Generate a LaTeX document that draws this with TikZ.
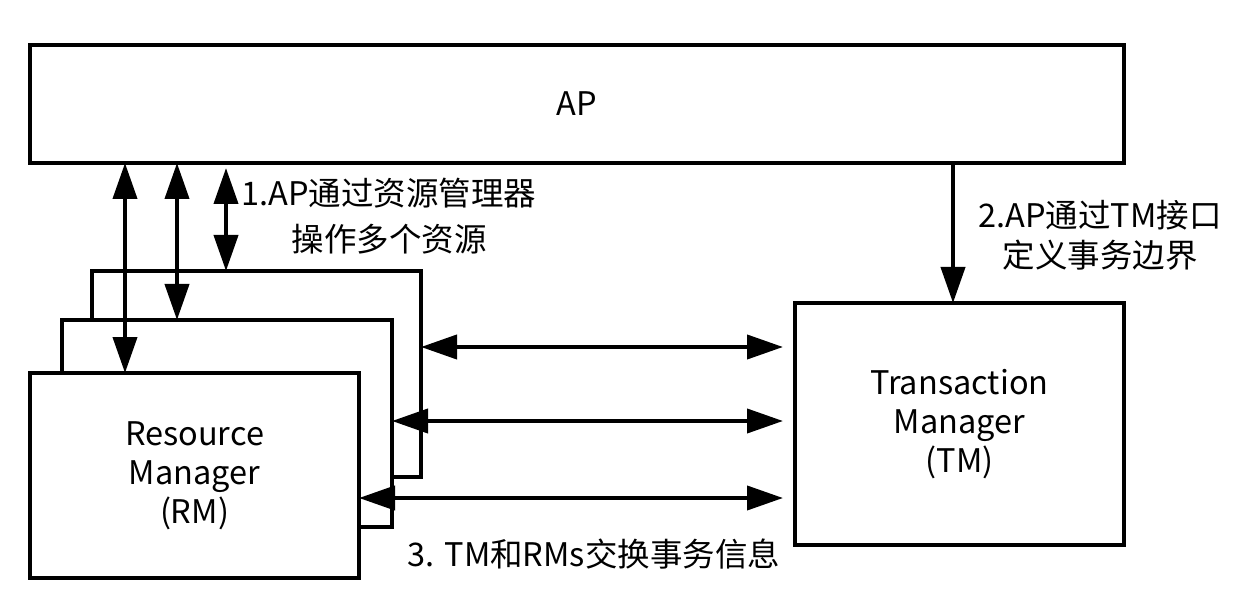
\documentclass[tikz,border=0pt]{standalone}
\usepackage{fontspec}
\setmainfont{Noto Sans CJK SC}
\usetikzlibrary{arrows.meta}
\begin{document}
\begin{tikzpicture}[x=1pt,y=-1pt,
  box/.style={draw,line width=4.5pt,fill=white,rectangle,inner sep=0pt,outer sep=0pt,align=center,
    font=\fontsize{32.5}{39}\selectfont},
  conn/.style={line width=4pt,-{Triangle[length=36pt,width=24pt]}},
  bconn/.style={line width=4pt,{Triangle[length=36pt,width=24pt]}-{Triangle[length=36pt,width=24pt]}},
  lbl/.style={align=center,inner sep=0pt,font=\fontsize{32.5}{40}\selectfont}]
\useasboundingbox (0,0) rectangle (1241,593);
\fill[white] (0,0) rectangle (1241,593);
\node[box,minimum width=1094pt,minimum height=118pt] (AP) at (577,104) {AP};
\node[box,minimum width=329pt,minimum height=206pt] (rmA) at (256.5,374) {};
\node[box,minimum width=330pt,minimum height=207pt] (rmB) at (227,423.5) {};
\node[box,minimum width=329pt,minimum height=205pt] (rmC) at (194.5,475.5) {Resource\\Manager\\(RM)};
\node[box,minimum width=329pt,minimum height=242pt] (TM) at (959.5,424) {Transaction\\Manager\\(TM)};
\coordinate (xa) at (125,0);
\coordinate (xb) at (177,0);
\coordinate (xc) at (226,0);
\coordinate (xt) at (953,0);
\coordinate (ya) at (0,347);
\coordinate (yb) at (0,421);
\coordinate (yc) at (0,498);
\draw[bconn] (AP.south -| xa) -- (rmC.north -| xa);
\draw[bconn] (AP.south -| xb) -- (rmB.north -| xb);
\draw[bconn,shorten <=5pt] (AP.south -| xc) -- (rmA.north -| xc);
\draw[conn] (AP.south -| xt) -- (TM.north -| xt);
\draw[bconn,shorten >=12pt] (rmA.east |- ya) -- (TM.west |- ya);
\draw[bconn,shorten >=12pt] (rmB.east |- yb) -- (TM.west |- yb);
\draw[bconn,shorten >=12pt] (rmC.east |- yc) -- (TM.west |- yc);
\node[lbl,font=\fontsize{32.5}{46}\selectfont] (l1) at (389,216) {1.AP通过资源管理器\\操作多个资源};
\node[lbl] (l2) at (1100,235) {2.AP通过TM接口\\定义事务边界};
\node[lbl] (l3) at (594,554) {3. TM和RMs交换事务信息};
\end{tikzpicture}
\end{document}
